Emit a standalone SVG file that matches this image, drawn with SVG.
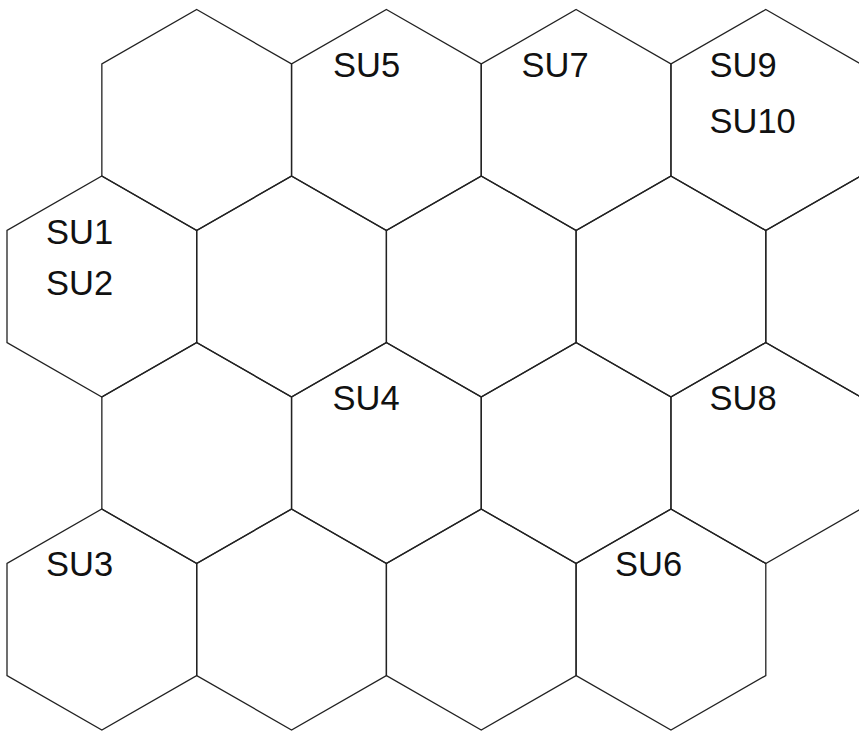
<svg xmlns="http://www.w3.org/2000/svg" width="859" height="732" viewBox="0 0 859 732">
<defs>
<style>
.hex{fill:none;stroke:#222;stroke-width:1.3;stroke-linejoin:miter}
.lbl{font-family:"Liberation Sans",Arial,Helvetica,sans-serif;font-size:34.5px;fill:#111}
</style>
<path id="h" d="M0,-110.25 L94.85,-55.75 L94.85,56.25 L0,110.75 L-94.85,56.25 L-94.85,-55.75 Z"/>
</defs>
<rect width="859" height="732" fill="#fff"/>
<g id="connectors"></g>
<g id="row1">
<g id="hex-r1c1"><use href="#h" class="hex" transform="translate(196.7,119.75)"/></g>
<g id="hex-r1c2"><use href="#h" class="hex" transform="translate(386.4,119.75)"/><text class="lbl" x="333" y="77">SU5</text></g>
<g id="hex-r1c3"><use href="#h" class="hex" transform="translate(576.1,119.75)"/><text class="lbl" x="521.5" y="77">SU7</text></g>
<g id="hex-r1c4"><use href="#h" class="hex" transform="translate(765.8,119.75)"/><text class="lbl" x="709.5" y="77">SU9</text><text class="lbl" x="709.5" y="133">SU10</text></g>
</g>
<g id="row2">
<g id="hex-r2c1"><use href="#h" class="hex" transform="translate(101.85,286.25)"/><text class="lbl" x="46" y="243.5">SU1</text><text class="lbl" x="46" y="295">SU2</text></g>
<g id="hex-r2c2"><use href="#h" class="hex" transform="translate(291.55,286.25)"/></g>
<g id="hex-r2c3"><use href="#h" class="hex" transform="translate(481.25,286.25)"/></g>
<g id="hex-r2c4"><use href="#h" class="hex" transform="translate(670.95,286.25)"/></g>
<g id="hex-r2c5"><use href="#h" class="hex" transform="translate(860.65,286.25)"/></g>
</g>
<g id="row3">
<g id="hex-r3c1"><use href="#h" class="hex" transform="translate(196.7,452.75)"/></g>
<g id="hex-r3c2"><use href="#h" class="hex" transform="translate(386.4,452.75)"/><text class="lbl" x="332.5" y="410">SU4</text></g>
<g id="hex-r3c3"><use href="#h" class="hex" transform="translate(576.1,452.75)"/></g>
<g id="hex-r3c4"><use href="#h" class="hex" transform="translate(765.8,452.75)"/><text class="lbl" x="709.5" y="410">SU8</text></g>
</g>
<g id="row4">
<g id="hex-r4c1"><use href="#h" class="hex" transform="translate(101.85,619.25)"/><text class="lbl" x="46" y="576">SU3</text></g>
<g id="hex-r4c2"><use href="#h" class="hex" transform="translate(291.55,619.25)"/></g>
<g id="hex-r4c3"><use href="#h" class="hex" transform="translate(481.25,619.25)"/></g>
<g id="hex-r4c4"><use href="#h" class="hex" transform="translate(670.95,619.25)"/><text class="lbl" x="615" y="575.5">SU6</text></g>
</g>
</svg>
